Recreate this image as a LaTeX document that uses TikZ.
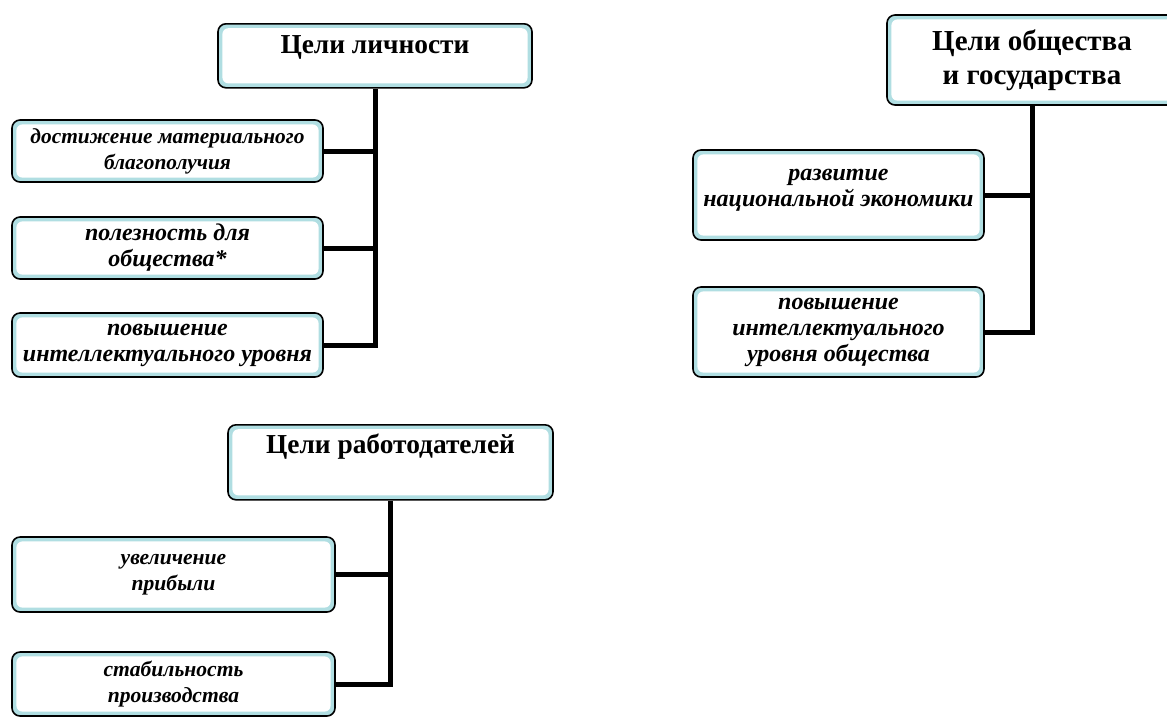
\documentclass[tikz,border=0pt]{standalone}
\usepackage{fontspec}
\setmainfont{Liberation Serif}
\definecolor{rim}{RGB}{176,222,226}
\begin{document}
\begin{tikzpicture}[x=0.5pt, y=-0.5pt, line join=miter]
	\tikzset{goalbox/.style={draw=black, line width=0.8pt, rounded corners=4pt, fill=rim, inner sep=0pt,
		path picture={\fill[white, rounded corners=3pt] ([shift={(2.2pt,2.2pt)}]path picture bounding box.south west) rectangle ([shift={(-2.2pt,-2.2pt)}]path picture bounding box.north east);}},
		head/.style={goalbox, font=\fontsize{#1}{17}\selectfont\bfseries}, head/.default=13.7,
		item/.style={goalbox, align=center, font=\fontsize{#1}{13}\selectfont\bfseries\itshape}, item/.default=12,
		link/.style={line width=2.5pt}}
	\useasboundingbox (0,0) rectangle (1167,720);
	% цели личности
	\node[head, anchor=north, minimum width=157pt, text height=15pt, text depth=17pt] (lich) at (375,23) {Цели личности};
	\node[item=10.7, minimum width=155.5pt, minimum height=31pt] (lich1) at (167.5,151) {достижение материального\\благополучия};
	\node[item, minimum width=155.5pt, minimum height=31pt] (lich2) at (167.5,248) {полезность для\\общества*};
	\node[item, minimum width=155.5pt, minimum height=32pt] (lich3) at (167.5,345) {повышение\\интеллектуального уровня};
	\draw[link] (lich.south) |- (lich3.east);
	\draw[link] (lich1.east) -- (lich1.east -| lich.south);
	\draw[link] (lich2.east) -- (lich2.east -| lich.south);
	% цели общества и государства
	\node[head=14.5, align=center, minimum width=145pt, minimum height=45pt] (gos) at (1032,60) {Цели общества\\и государства};
	\node[item, minimum width=145.5pt, minimum height=45pt] (gos1) at (838.5,195) {развитие\\национальной экономики\\[-6pt]\mbox{}};
	\node[item, minimum width=145.5pt, minimum height=45pt] (gos2) at (838.5,332) {повышение\\интеллектуального\\уровня общества};
	\draw[link] (gos.south) |- (gos2.east);
	\draw[link] (gos1.east) -- (gos1.east -| gos.south);
	% цели работодателей
	\node[head, anchor=north, minimum width=162.5pt, text height=14.5pt, text depth=23pt] (rab) at (390.5,424) {Цели работодателей};
	\node[item=10.8, minimum width=161.5pt, minimum height=37.5pt] (rab1) at (173.5,574.5) {увеличение\\прибыли};
	\node[item=10.8, minimum width=161.5pt, minimum height=32pt] (rab2) at (173.5,684) {стабильность\\производства};
	\draw[link] (rab.south) |- (rab2.east);
	\draw[link] (rab1.east) -- (rab1.east -| rab.south);
\end{tikzpicture}
\end{document}
